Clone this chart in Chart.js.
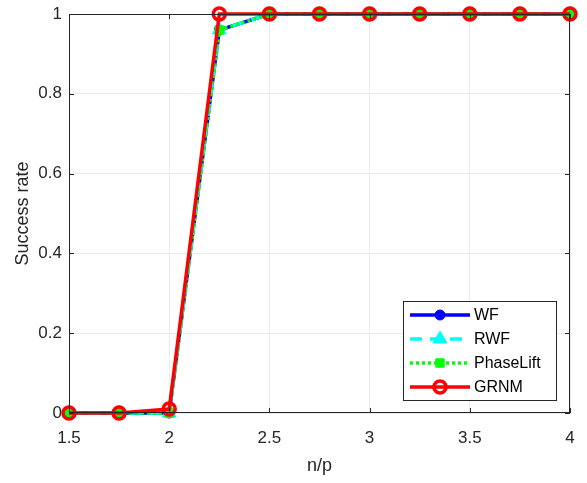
<!DOCTYPE html>
<html lang="en">
<head>
    <meta charset="UTF-8">
    <title>Success rate vs n/p</title>
    <script src="https://cdn.jsdelivr.net/npm/chart.js"></script>
    <style>
        body { margin: 0; background: #fff; }
        #wrap { width: 587px; height: 483px; }
    </style>
</head>
<body>
    <div id="wrap">
        <canvas id="myChart"></canvas>
    </div>
    <script>
        // n/p ratios on the x axis
        const ratios = [1.5, 1.75, 2, 2.25, 2.5, 2.75, 3, 3.25, 3.5, 3.75, 4];
        // success rate for each method
        const wf        = [0, 0, 0, 0.96, 1, 1, 1, 1, 1, 1, 1];
        const rwf       = [0, 0, 0, 0.96, 1, 1, 1, 1, 1, 1, 1];
        const phaseLift = [0, 0, 0, 0.96, 1, 1, 1, 1, 1, 1, 1];
        const grnm      = [0, 0, 0.01, 1, 1, 1, 1, 1, 1, 1, 1];
        const xTicks = [1.5, 2, 2.5, 3, 3.5, 4];
        const yTicks = [0, 0.2, 0.4, 0.6, 0.8, 1];

        const pts = (ys) => ratios.map((x, i) => ({ x: x, y: ys[i] }));
        const axisColor = '#262626';
        const font = 'Liberation Sans, Arial, sans-serif';

        const datasets = [
            { label: 'WF', data: pts(wf), borderColor: '#0000ff', backgroundColor: '#0000ff',
              borderWidth: 3.5, pointStyle: 'circle', pointRadius: 5, pointBorderWidth: 1, order: 3 },
            { label: 'RWF', data: pts(rwf), borderColor: '#00ffff', backgroundColor: '#00ffff',
              borderWidth: 3.5, borderDash: [12, 8], pointStyle: 'triangle', pointRadius: 8, pointBorderWidth: 1, order: 2 },
            { label: 'PhaseLift', data: pts(phaseLift), borderColor: '#00ff00', backgroundColor: '#00ff00',
              borderWidth: 3.5, borderDash: [3, 3], pointStyle: 'rect', pointRadius: 6, pointBorderWidth: 1, order: 1 },
            { label: 'GRNM', data: pts(grnm), borderColor: '#ff0000', backgroundColor: 'rgba(255,255,255,0)',
              borderWidth: 3.5, pointStyle: 'circle', pointRadius: 6, pointBorderWidth: 3.5, order: 0 }
        ];
        datasets.forEach(d => { d.showLine = true; d.clip = false; d.tension = 0; });

        // box around the axes, inward ticks and the legend, matlab style
        const framePlugin = {
            id: 'frame',
            afterDatasetsDraw(chart) {
                const c = chart.ctx, a = chart.chartArea;
                const xs = chart.scales.x, ys = chart.scales.y;
                c.save();
                c.strokeStyle = axisColor;
                c.lineWidth = 1;
                c.strokeRect(a.left + 0.5, a.top + 0.5, a.right - a.left - 1, a.bottom - a.top - 1);
                c.beginPath();
                xTicks.forEach(v => {
                    const px = Math.round(xs.getPixelForValue(v)) + 0.5;
                    c.moveTo(px, a.bottom); c.lineTo(px, a.bottom - 5);
                    c.moveTo(px, a.top); c.lineTo(px, a.top + 5);
                });
                yTicks.forEach(v => {
                    const py = Math.round(ys.getPixelForValue(v)) + 0.5;
                    c.moveTo(a.left, py); c.lineTo(a.left + 5, py);
                    c.moveTo(a.right, py); c.lineTo(a.right - 5, py);
                });
                c.stroke();

                // legend
                const lx = 403, ly = 301, lw = 153, lh = 99;
                c.fillStyle = '#fff';
                c.fillRect(lx, ly, lw, lh);
                c.strokeStyle = '#262626';
                c.strokeRect(lx + 0.5, ly + 0.5, lw, lh);
                c.font = '16px ' + font;
                c.textBaseline = 'middle';
                datasets.forEach((d, i) => {
                    const y = ly + 14 + i * 24;
                    c.save();
                    c.strokeStyle = d.borderColor;
                    c.lineWidth = d.borderWidth;
                    c.setLineDash(d.borderDash || []);
                    c.beginPath();
                    c.moveTo(410, y); c.lineTo(470, y);
                    c.stroke();
                    c.restore();
                    c.save();
                    c.fillStyle = d.backgroundColor;
                    c.strokeStyle = d.borderColor;
                    c.lineWidth = d.pointBorderWidth;
                    c.beginPath();
                    const r = d.pointRadius;
                    if (d.pointStyle === 'circle') {
                        c.arc(440, y, r, 0, Math.PI * 2);
                    } else if (d.pointStyle === 'rect') {
                        c.rect(440 - r * 0.7, y - r * 0.7, r * 1.4, r * 1.4);
                    } else {
                        c.moveTo(440, y - r); c.lineTo(440 + r * 0.87, y + r * 0.5); c.lineTo(440 - r * 0.87, y + r * 0.5); c.closePath();
                    }
                    c.fill(); c.stroke();
                    c.restore();
                    c.fillStyle = '#000';
                    c.fillText(d.label, 474, y + 1);
                });
                c.restore();
            }
        };

        const ctx = document.getElementById('myChart');
        new Chart(ctx, {
            type: 'scatter',
            data: { datasets: datasets },
            options: {
                responsive: true,
                maintainAspectRatio: false,
                animation: false,
                layout: { padding: { top: 14, right: 17, left: 0, bottom: 2 } },
                plugins: { legend: { display: false }, tooltip: { enabled: false } },
                scales: {
                    x: {
                        type: 'linear', min: 1.5, max: 4,
                        afterBuildTicks: (s) => { s.ticks = xTicks.map(v => ({ value: v })); },
                        afterFit: (s) => { s.height = 68; s.paddingLeft = 0; s.paddingRight = 0; },
                        border: { display: false },
                        grid: { color: '#ebebeb', drawTicks: false },
                        ticks: { color: axisColor, padding: 15, font: { family: font, size: 17 },
                                 callback: (v) => String(v) },
                        title: { display: true, text: 'n/p', color: axisColor, font: { family: font, size: 18 }, padding: { top: 4 } }
                    },
                    y: {
                        min: 0, max: 1,
                        afterBuildTicks: (s) => { s.ticks = yTicks.map(v => ({ value: v })); },
                        afterFit: (s) => { s.width = 69; s.paddingTop = 0; s.paddingBottom = 0; },
                        border: { display: false },
                        grid: { color: '#ebebeb', drawTicks: false },
                        ticks: { color: axisColor, padding: 7, font: { family: font, size: 17 },
                                 callback: (v) => String(v) },
                        title: { display: true, text: 'Success rate', color: axisColor, font: { family: font, size: 18 }, padding: { top: 12, bottom: 0 } }
                    }
                }
            },
            plugins: [framePlugin]
        });
    </script>
</body>
</html>
